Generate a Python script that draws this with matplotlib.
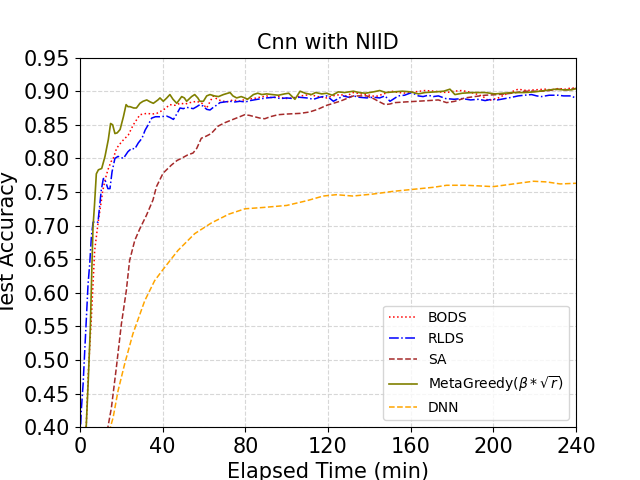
import matplotlib
matplotlib.use("Agg")
import matplotlib.pyplot as plt

bods_t = [2.5, 3, 4, 5.5, 7.1, 8.7, 10, 11.1, 12.3, 13.5, 15, 16.1, 17.7, 20.2, 23.4, 25.8, 29, 32.3, 35, 37.1,
          40.3, 43.5, 46, 48.4, 51, 53.2, 56.5, 59, 61.3, 63, 64.5, 66, 68, 71, 74, 77.4, 80, 83.9, 87, 90.3,
          93, 96, 99, 103.2, 107, 111.3, 115, 119.4, 122, 126, 129, 132.3, 136, 140, 143, 146, 150.8, 154, 158, 162,
          166.9, 171.7, 174, 177.4, 181, 184.7, 188, 192.7, 195, 197.6, 200, 202.4, 205, 208, 212, 216, 220, 225, 228, 231.4,
          235, 237.9, 240]
bods_v = [0.37, 0.40, 0.48, 0.563, 0.663, 0.703, 0.73, 0.753, 0.77, 0.783, 0.795, 0.80, 0.815, 0.825, 0.835, 0.85, 0.865, 0.867, 0.866, 0.867,
          0.872, 0.88, 0.879, 0.882, 0.881, 0.883, 0.885, 0.882, 0.875, 0.885, 0.893, 0.889, 0.886, 0.884, 0.887, 0.885, 0.888, 0.889, 0.891, 0.893,
          0.89, 0.892, 0.889, 0.89, 0.893, 0.895, 0.892, 0.89, 0.893, 0.895, 0.893, 0.898, 0.896, 0.894, 0.892, 0.895, 0.90, 0.898, 0.897, 0.899,
          0.901, 0.90, 0.899, 0.898, 0.90, 0.901, 0.899, 0.895, 0.892, 0.886, 0.888, 0.89, 0.894, 0.898, 0.903, 0.901, 0.902, 0.903, 0.902, 0.904,
          0.903, 0.905, 0.904]

rlds_t = [0, 0.6, 1.5, 2.3, 3.1, 3.9, 4.7, 5.5, 6.3, 7.5, 8.7, 10.3, 11.3, 11.9, 13.5, 14.5, 15.5, 16.9, 18.4, 21,
          23.2, 25, 26.5, 28.2, 30, 31.5, 33, 34.7, 36.5, 38.7, 41.9, 43.5, 45.2, 46.8, 48.4, 50, 51.6, 54.8, 56.5, 58,
          59.5, 61.3, 62.9, 64.5, 66, 67.7, 70, 72.6, 75, 77.4, 80, 82.3, 86, 90.3, 94, 97, 100, 103.2, 106, 109.7,
          113, 116, 119.4, 122.6, 125, 127.4, 130, 132.3, 135, 138.7, 142, 145, 147.6, 150, 152, 154, 157, 160.5, 163.7, 166,
          168.5, 171, 173.4, 177, 181, 185, 189, 193, 196, 199.2, 202, 205.6, 209, 212, 215, 218.5, 221, 223.4, 227, 231.4,
          234, 237.9, 240]
rlds_v = [0.38, 0.424, 0.464, 0.514, 0.563, 0.613, 0.643, 0.683, 0.705, 0.706, 0.705, 0.753, 0.77, 0.77, 0.755, 0.755, 0.78, 0.80, 0.803, 0.80,
          0.81, 0.815, 0.814, 0.823, 0.83, 0.842, 0.85, 0.86, 0.862, 0.862, 0.863, 0.861, 0.858, 0.866, 0.875, 0.874, 0.876, 0.874, 0.877, 0.88,
          0.878, 0.873, 0.872, 0.876, 0.879, 0.883, 0.884, 0.885, 0.884, 0.885, 0.884, 0.886, 0.888, 0.89, 0.891, 0.889, 0.89, 0.889, 0.891, 0.89,
          0.888, 0.891, 0.893, 0.885, 0.889, 0.893, 0.891, 0.893, 0.891, 0.89, 0.891, 0.89, 0.893, 0.885, 0.889, 0.893, 0.894, 0.898, 0.893, 0.892,
          0.894, 0.892, 0.893, 0.889, 0.888, 0.889, 0.887, 0.888, 0.886, 0.888, 0.887, 0.889, 0.891, 0.893, 0.894, 0.895, 0.893, 0.892, 0.894, 0.894,
          0.893, 0.893, 0.889]

sa_t = [12.5, 13.5, 15.2, 17.6, 20, 22.4, 24, 26.5, 28.9, 32.1, 35.3, 37, 40.2, 44.2, 47, 49, 52, 54.7, 56.5, 58.7,
        61, 63.5, 66.8, 70, 73.2, 76.5, 79.7, 82, 84.5, 87, 89.4, 92, 95.8, 100, 106.5, 111, 115, 119.4, 122.6, 125.8,
        129, 132.3, 135, 138.7, 142, 145, 147.6, 150, 152.4, 157.3, 163, 168.5, 173.4, 177.4, 181.4, 186.3, 191, 196, 202.4, 208.9,
        215.3, 223.4, 227, 231.4, 235, 240]
sa_v = [0.37, 0.40, 0.429, 0.489, 0.553, 0.603, 0.648, 0.678, 0.695, 0.715, 0.738, 0.758, 0.778, 0.79, 0.797, 0.80, 0.805, 0.808, 0.815, 0.83,
        0.833, 0.837, 0.848, 0.853, 0.857, 0.861, 0.865, 0.864, 0.862, 0.86, 0.859, 0.862, 0.865, 0.866, 0.867, 0.869, 0.873, 0.879, 0.882, 0.885,
        0.889, 0.893, 0.893, 0.893, 0.889, 0.884, 0.88, 0.881, 0.883, 0.884, 0.885, 0.886, 0.887, 0.883, 0.885, 0.89, 0.892, 0.894, 0.895, 0.897,
        0.90, 0.90, 0.901, 0.903, 0.902, 0.904]

mg_t = [2, 3, 4, 5, 5.6, 6.3, 7, 7.9, 8.9, 10.5, 12.1, 13.7, 14.8, 15.8, 16.9, 18, 19.4, 21, 22.3, 23.2,
        24.2, 26, 27.3, 29, 30.5, 32.3, 34, 35.5, 37.7, 38.7, 40.3, 42, 43.5, 45, 46.8, 49.2, 50.5, 51.6, 54, 55.5,
        57, 58, 59.7, 61.3, 62.9, 65, 67, 69.4, 72.6, 74, 75.8, 78, 79.7, 81.1, 83.9, 86, 88, 90.3, 93, 96,
        99, 101, 104, 106.5, 109, 112, 114, 117, 119.4, 122, 125, 128, 132.3, 135, 138, 142, 145, 148, 152, 156,
        160, 163.7, 167, 172, 176, 179, 181.4, 185, 190, 196, 200.8, 205, 210, 215, 220, 225, 230, 234, 237.9, 240]
mg_v = [0.36, 0.40, 0.47, 0.548, 0.62, 0.698, 0.73, 0.777, 0.783, 0.785, 0.803, 0.828, 0.852, 0.85, 0.837, 0.838, 0.843, 0.862, 0.88, 0.877,
        0.877, 0.875, 0.875, 0.882, 0.885, 0.887, 0.884, 0.882, 0.887, 0.89, 0.885, 0.89, 0.895, 0.888, 0.882, 0.892, 0.89, 0.885, 0.892, 0.895,
        0.89, 0.885, 0.885, 0.893, 0.895, 0.893, 0.892, 0.895, 0.898, 0.893, 0.89, 0.892, 0.89, 0.888, 0.895, 0.897, 0.895, 0.896, 0.895, 0.894,
        0.896, 0.897, 0.888, 0.90, 0.897, 0.895, 0.898, 0.896, 0.897, 0.894, 0.899, 0.898, 0.90, 0.898, 0.897, 0.899, 0.901, 0.898, 0.899, 0.90,
        0.899, 0.896, 0.898, 0.899, 0.90, 0.903, 0.895, 0.897, 0.898, 0.898, 0.896, 0.897, 0.898, 0.898, 0.899, 0.901, 0.903, 0.902, 0.902, 0.904]

dnn_t = [12, 14.7, 16, 18.4, 21.6, 25.6, 31.3, 36.1, 41, 47.4, 55.5, 63.6, 72, 79.8, 88.7, 100, 109.7, 117.7, 124, 132,
         141.9, 151.6, 161.3, 171, 177.4, 187, 200, 209.7, 219.4, 225.8, 232.3, 240]
dnn_v = [0.37, 0.40, 0.414, 0.454, 0.494, 0.539, 0.588, 0.618, 0.638, 0.663, 0.688, 0.704, 0.717, 0.725, 0.727, 0.730, 0.737, 0.744, 0.746, 0.744,
         0.747, 0.751, 0.754, 0.757, 0.760, 0.760, 0.758, 0.762, 0.766, 0.765, 0.762, 0.763]

x_ticks = [0, 40, 80, 120, 160, 200, 240]
y_ticks = [0.40, 0.45, 0.50, 0.55, 0.60, 0.65, 0.70, 0.75, 0.80, 0.85, 0.90, 0.95]

fig, ax = plt.subplots(figsize=(6.4, 4.8), dpi=100)
ax.plot(bods_t, bods_v, linestyle=':', color='red', linewidth=1.1, label='BODS')
ax.plot(rlds_t, rlds_v, linestyle='-.', color='blue', linewidth=1.1, label='RLDS')
ax.plot(sa_t, sa_v, linestyle='--', color='brown', linewidth=1.1, label='SA')
ax.plot(mg_t, mg_v, linestyle='-', color='olive', linewidth=1.2, label=r'MetaGreedy($\beta * \sqrt{r}$)')
ax.plot(dnn_t, dnn_v, linestyle='--', color='orange', linewidth=1.1, label='DNN')

ax.set_xlim(0, 240)
ax.set_ylim(0.40, 0.95)
ax.set_xticks(x_ticks)
ax.set_yticks(y_ticks)
ax.set_yticklabels([f"{v:.2f}" for v in y_ticks])
ax.tick_params(labelsize=15)
ax.grid(True, linestyle='--', color='lightgray', alpha=0.9)
ax.set_xlabel('Elapsed Time (min)', fontsize=15)
ax.set_ylabel('Test Accuracy', fontsize=15)
ax.set_title('Cnn with NIID', fontsize=15)
ax.legend(loc='lower right', fontsize=10)
fig.savefig('out.png', dpi=100)
